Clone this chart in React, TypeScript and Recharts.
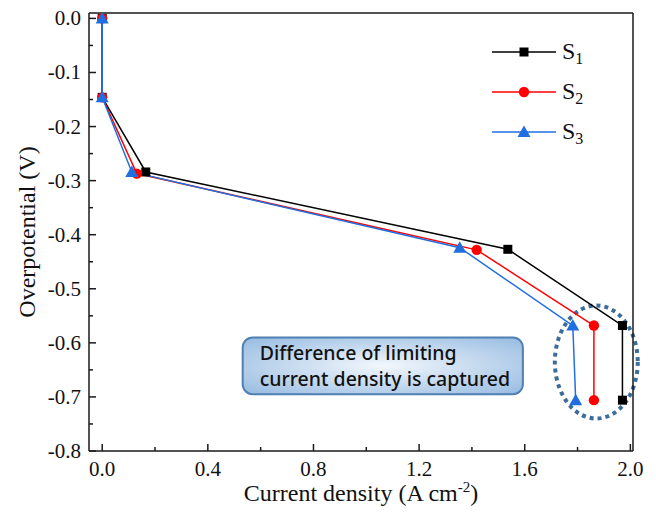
import React from "react";
import {
  LineChart,
  Line,
  XAxis,
  YAxis,
  ReferenceArea,
  ReferenceLine,
} from "recharts";

const xS1 = [0, 0, 0.165, 1.536, 1.97, 1.97];
const yS1 = [0, -0.146, -0.284, -0.427, -0.568, -0.706];
const xS2 = [0, 0, 0.131, 1.418, 1.862, 1.862];
const yS2 = [0, -0.146, -0.287, -0.428, -0.568, -0.706];
const xS3 = [0, 0, 0.112, 1.354, 1.782, 1.793];
const yS3 = [0, -0.146, -0.284, -0.424, -0.568, -0.706];

const xTicks = [0, 0.2, 0.4, 0.6, 0.8, 1.0, 1.2, 1.4, 1.6, 1.8, 2.0];
const xLabels = ["0.0", "", "0.4", "", "0.8", "", "1.2", "", "1.6", "", "2.0"];
const yTicks = [
  0, -0.05, -0.1, -0.15, -0.2, -0.25, -0.3, -0.35, -0.4, -0.45, -0.5, -0.55,
  -0.6, -0.65, -0.7, -0.75, -0.8,
];
const yLabels = [
  "0.0", "", "-0.1", "", "-0.2", "", "-0.3", "", "-0.4", "", "-0.5", "",
  "-0.6", "", "-0.7", "", "-0.8",
];

const seriesNames = ["1", "2", "3"];
const seriesColors = ["#000000", "#ff0000", "#1f6fe0"];
const noteLines = ["Difference of limiting", "current density is captured"];

const zip = (xs: number[], ys: number[]) => xs.map((x, i) => ({ x, y: ys[i] }));
const series = [zip(xS1, yS1), zip(xS2, yS2), zip(xS3, yS3)];

const SERIF = "'Liberation Serif', 'Times New Roman', serif";
const AXIS = "#1a1a1a";

const Marker = ({ kind, cx, cy, color }: any) => {
  if (kind === 0) return <rect x={cx - 4.5} y={cy - 4.5} width={9} height={9} fill={color} />;
  if (kind === 1) return <circle cx={cx} cy={cy} r={5.2} fill={color} />;
  return <polygon points={`${cx},${cy - 6.5} ${cx + 6.5},${cy + 5} ${cx - 6.5},${cy + 5}`} fill={color} />;
};

const XTick = ({ x, y, index }: any) => {
  const label = xLabels[index] ?? "";
  const major = label !== "";
  return (
    <g>
      <line x1={x} x2={x} y1={y} y2={y - (major ? 7 : 4)} stroke={AXIS} strokeWidth={1.5} />
      {major && (
        <text x={x} y={y + 25} textAnchor="middle" fontFamily={SERIF} fontSize={21} fill="#111">
          {label}
        </text>
      )}
    </g>
  );
};

const YTick = ({ x, y, index }: any) => {
  const label = yLabels[index] ?? "";
  const major = label !== "";
  return (
    <g>
      <line x1={x} x2={x + (major ? 7 : 4)} y1={y} y2={y} stroke={AXIS} strokeWidth={1.5} />
      {major && (
        <text x={x - 8} y={y + 7} textAnchor="end" fontFamily={SERIF} fontSize={21} fill="#111">
          {label}
        </text>
      )}
    </g>
  );
};

const NoteBox = ({ x, y, width, height }: any) => (
  <g>
    <defs>
      <radialGradient id="noteGrad" cx="50%" cy="50%" r="65%">
        <stop offset="0%" stopColor="#f2f7fc" />
        <stop offset="100%" stopColor="#9dbfe3" />
      </radialGradient>
    </defs>
    <rect x={x} y={y} width={width} height={height} rx={10} ry={10} fill="url(#noteGrad)" stroke="#4f80b3" strokeWidth={2} />
    {noteLines.map((t, i) => (
      <text key={t} x={x + 17} y={y + 23 + i * 26} fontFamily="'Noto Sans', sans-serif" fontSize={19.5} fontWeight={500} fill="#111">
        {t}
      </text>
    ))}
  </g>
);

const DottedEllipse = ({ x, y, width, height }: any) => (
  <ellipse
    cx={x + width / 2}
    cy={y + height / 2}
    rx={width / 2}
    ry={height / 2}
    fill="none"
    stroke="#3b6c9a"
    strokeWidth={4}
    strokeDasharray="4 4"
  />
);

export default function App() {
  return (
    <div style={{ position: "relative", width: 640, height: 500 }}>
      <LineChart width={640} height={500} margin={{ top: 5, right: 15, bottom: 2, left: 0 }}>
        <XAxis
          type="number"
          dataKey="x"
          domain={[-0.05, 2.01]}
          allowDataOverflow
          ticks={xTicks}
          interval={0}
          tickSize={0}
          tickMargin={0}
          tickLine={false}
          tick={<XTick />}
          height={55}
          axisLine={{ stroke: AXIS, strokeWidth: 1.5 }}
          label={({ viewBox }: any) => (
            <text x={viewBox.x + viewBox.width / 2} y={viewBox.y + 50} textAnchor="middle" fontFamily={SERIF} fontSize={24} fill="#111">
              Current density (A cm
              <tspan fontSize={15} dy={-9}>-2</tspan>
              <tspan dy={9}>)</tspan>
            </text>
          )}
        />
        <YAxis
          type="number"
          dataKey="y"
          domain={[-0.8, 0.01]}
          allowDataOverflow
          ticks={yTicks}
          interval={0}
          tickSize={0}
          tickMargin={0}
          tickLine={false}
          tick={<YTick />}
          width={81}
          axisLine={{ stroke: AXIS, strokeWidth: 1.5 }}
          label={({ viewBox }: any) => {
            const cx = 19;
            const cy = viewBox.y + viewBox.height / 2;
            return (
              <text x={cx} y={cy} transform={`rotate(-90 ${cx} ${cy})`} textAnchor="middle" dominantBaseline="central" fontFamily={SERIF} fontSize={24} fill="#111">
                Overpotential (V)
              </text>
            );
          }}
        />
        <ReferenceLine y={0.01} stroke={AXIS} strokeWidth={1.5} ifOverflow="visible" />
        <ReferenceLine x={2.01} stroke={AXIS} strokeWidth={1.5} ifOverflow="visible" />
        <ReferenceArea x1={0.532} x2={1.593} y1={-0.695} y2={-0.59} ifOverflow="visible" shape={<NoteBox />} />
        {series.map((d, i) => (
          <Line
            key={i}
            data={d}
            dataKey="y"
            type="linear"
            stroke={seriesColors[i]}
            strokeWidth={1.5}
            isAnimationActive={false}
            dot={(p: any) => <Marker key={`${i}-${p.index}`} kind={i} cx={p.cx} cy={p.cy} color={seriesColors[i]} />}
            activeDot={false}
          />
        ))}
        <ReferenceArea x1={1.714} x2={2.028} y1={-0.74} y2={-0.531} ifOverflow="visible" shape={<DottedEllipse />} />
      </LineChart>
      <div style={{ position: "absolute", left: 484, top: 24 }}>
        {seriesNames.map((n, i) => (
          <div key={n} style={{ display: "flex", alignItems: "center", height: 40 }}>
            <svg width={66} height={20}>
              <line x1={0} x2={64} y1={10} y2={10} stroke={seriesColors[i]} strokeWidth={1.5} />
              <Marker kind={i} cx={32} cy={10} color={seriesColors[i]} />
            </svg>
            <span style={{ marginLeft: 4, fontFamily: SERIF, fontSize: 24, color: "#111", lineHeight: "20px" }}>
              S<span style={{ fontSize: 16, position: "relative", top: 5 }}>{n}</span>
            </span>
          </div>
        ))}
      </div>
    </div>
  );
}
